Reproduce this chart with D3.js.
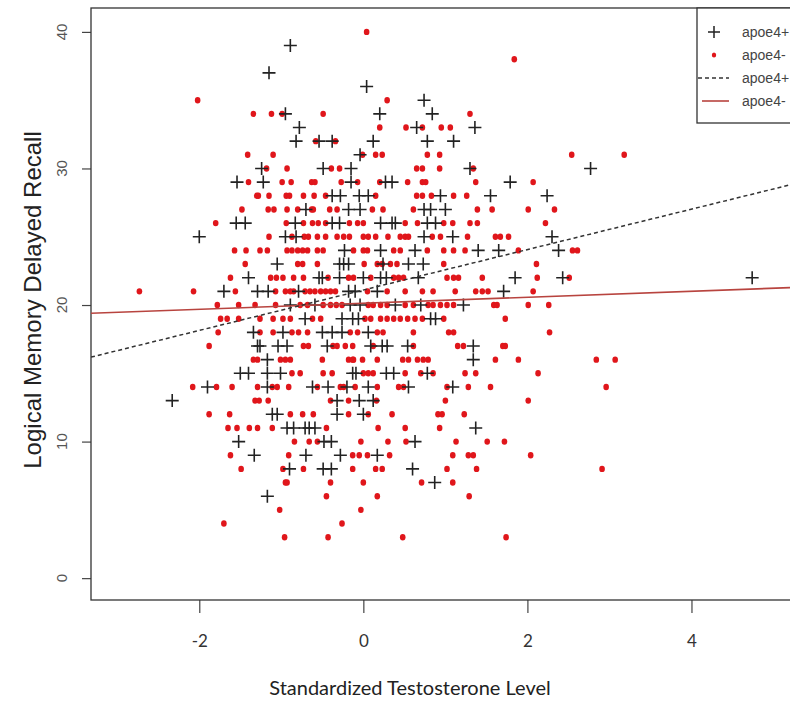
<!DOCTYPE html>
<html>
<head>
<meta charset="utf-8">
<script src="https://cdn.jsdelivr.net/npm/d3@7"></script>
<style>
  html, body { margin: 0; padding: 0; background: #fff; }
  svg { display: block; }
</style>
</head>
<body>
<div id="chart"></div>
<script>
// scores (y) with the testosterone values (x) read at each score
var negRows = [
  [40, [0.04]],
  [38, [1.84]],
  [35, [-2.02, 0.29]],
  [34, [-1.34, -1.12, -0.99, -0.49, 1.30]],
  [33, [0.20, 0.52, 0.72, 0.95, 1.06]],
  [32, [-0.58, -0.34]],
  [31, [-1.41, -1.10, -0.01, 0.15, 0.23, 0.78, 0.93, 2.54, 3.18]],
  [30, [-1.18, -0.93, -0.39, -0.29, 0.65, 0.72, 0.93, 1.34]],
  [29, [-1.40, -0.99, -0.88, -0.63, -0.59, -0.27, -0.07, 0.20, 0.54, 0.72, 0.76, 1.37, 2.07]],
  [28, [-1.30, -1.28, -1.15, -0.94, -0.90, -0.73, -0.60, -0.46, 0.15, 0.65, 0.72, 0.83, 1.10, 1.26]],
  [27, [-1.48, -1.16, -1.09, -0.93, -0.80, -0.63, -0.61, -0.41, -0.32, 0.11, 0.24, 0.61, 1.39, 1.57, 2.01, 2.33]],
  [26, [-1.80, -0.94, -0.73, -0.62, -0.55, -0.46, -0.17, -0.07, 0.00, 0.51, 0.66, 0.98, 1.09, 1.30, 1.39, 2.22]],
  [25, [-1.15, -0.87, -0.72, -0.67, -0.56, -0.46, -0.32, -0.24, -0.17, 0.00, 0.06, 0.15, 0.30, 0.45, 0.51, 0.55, 0.84, 0.94, 1.27, 1.61, 1.67, 1.77]],
  [24, [-1.57, -1.43, -1.26, -1.17, -0.93, -0.87, -0.80, -0.74, -0.68, -0.56, -0.49, -0.12, 0.00, 0.05, 0.37, 0.45, 0.78, 0.98, 1.10, 1.24, 1.89, 2.55, 2.61]],
  [23, [-1.44, -0.80, -0.74, -0.56, 0.01, 0.17, 0.23, 0.33, 0.41, 0.98, 2.11]],
  [22, [-1.62, -1.13, -1.06, -0.98, -0.85, -0.73, -0.43, -0.18, -0.12, 0.09, 0.37, 0.43, 0.49, 1.02, 1.10, 1.16, 1.45, 2.12, 2.51]],
  [21, [-2.73, -2.07, -1.56, -1.07, -0.95, -0.89, -0.85, -0.71, -0.65, -0.59, -0.52, -0.46, -0.40, -0.34, 0.05, 0.29, 0.51, 0.72, 0.85, 1.12, 1.37, 1.45, 1.52, 2.07]],
  [20, [-1.78, -1.52, -1.32, -1.07, -0.77, -0.68, -0.49, -0.40, -0.33, -0.26, 0.06, 0.12, 0.21, 0.29, 0.51, 0.61, 0.79, 0.85, 0.94, 1.02, 1.10, 1.59, 1.63, 2.01, 2.26]],
  [19, [-1.74, -1.66, -1.52, -1.26, -1.10, -0.98, -0.89, -0.62, -0.52, 0.02, 0.09, 0.21, 0.29, 0.37, 0.45, 0.54, 0.63, 0.72, 0.98, 1.73]],
  [18, [-1.77, -1.26, -1.10, -0.87, -0.79, -0.68, -0.16, -0.07, 0.17, 0.24, 0.61, 1.04, 1.10, 2.27]],
  [17, [-1.88, -0.73, -0.67, -0.37, -0.32, -0.22, -0.13, 0.12, 0.61, 1.15, 1.22, 1.70, 1.73]],
  [16, [-1.34, -1.29, -1.01, -0.95, -0.89, -0.50, -0.18, -0.13, -0.12, -0.01, 0.17, 0.48, 0.55, 0.66, 0.73, 0.79, 1.61, 1.89, 2.84, 3.07]],
  [15, [-0.87, -0.77, -0.49, -0.38, 0.00, 0.06, 0.12, 0.51, 0.70, 0.85, 1.24, 1.37, 2.13]],
  [14, [-2.08, -1.79, -1.60, -1.29, -1.11, -1.05, -0.91, -0.56, -0.28, -0.24, -0.10, 0.17, 0.43, 0.49, 1.02, 1.28, 1.55, 2.96]],
  [13, [-1.32, -1.27, -1.16, -0.40, -0.18, 0.16, 1.00, 2.01]],
  [12, [-1.88, -1.63, -0.89, -0.74, -0.61, -0.18, 0.06, 0.35, 0.91, 0.96, 1.23]],
  [11, [-1.65, -1.54, -1.39, -1.29, -1.11, -0.45, 0.18, 0.51, 0.93]],
  [10, [-0.84, -0.66, -0.56, -0.03, 0.30, 0.52, 1.13, 1.51, 1.72]],
  [9, [-1.62, -0.91, -0.13, -0.05, 0.05, 0.32, 1.09, 1.28, 1.34, 2.04]],
  [8, [-1.49, -0.98, -0.73, -0.13, 0.15, 0.23, 1.02, 1.38, 2.91]],
  [7, [-0.95, -0.93, -0.40, 0.00, 0.71, 1.09]],
  [6, [-0.45, 0.17, 1.29]],
  [5, [-1.02, -0.03]],
  [4, [-1.70, -0.26]],
  [3, [-0.96, -0.43, 0.48, 1.74]]
];

var posRows = [
  [39, [-0.89]],
  [37, [-1.15]],
  [36, [0.04]],
  [35, [0.74]],
  [34, [-0.95, 0.20, 0.84]],
  [33, [-0.78, 0.65, 1.36]],
  [32, [-0.82, -0.54, -0.38, 0.12, 0.78, 1.10]],
  [31, [-0.04]],
  [30, [-1.24, -0.49, -0.15, 1.30, 2.77]],
  [29, [-1.54, -1.22, -0.15, 0.27, 0.35, 1.79]],
  [28, [-0.38, -0.28, -0.05, 0.06, 0.94, 1.55, 2.24]],
  [27, [-0.70, -0.18, -0.04, 0.74, 0.82, 1.00]],
  [26, [-1.55, -1.44, -0.83, -0.38, -0.29, 0.21, 0.35, 0.39, 0.78, 0.88]],
  [25, [-2.00, -0.95, -0.82, 0.74, 1.09, 2.30]],
  [24, [-0.23, 0.21, 0.63, 1.40, 1.65, 2.38]],
  [23, [-1.05, -0.29, -0.24, -0.18, 0.24, 0.55, 0.73]],
  [22, [-1.40, -0.54, -0.50, -0.29, 0.00, 0.21, 0.28, 0.67, 1.85, 2.43, 4.74]],
  [21, [-1.70, -1.29, -1.16, -0.79, -0.18, -0.10, 0.17, 1.71]],
  [20, [-0.89, -0.59, -0.16, -0.04, 0.39, 0.70, 1.22]],
  [19, [-0.71, -0.26, -0.13, -0.06, 0.82, 0.88]],
  [18, [-1.34, -0.98, -0.50, -0.38, -0.26, 0.06]],
  [17, [-1.29, -1.26, -1.04, -0.93, -0.44, 0.09, 0.23, 0.29, 0.54, 1.34]],
  [16, [-1.17, 1.34]],
  [15, [-1.50, -1.40, -1.17, -1.01, -0.13, -0.09, 0.28, 0.37, 0.78]],
  [14, [-1.90, -1.17, -0.62, -0.43, -0.20, 0.06, 0.55, 1.09]],
  [13, [-2.33, -0.32, -0.05, 0.12]],
  [12, [-1.11, -1.05, -0.32, 0.00]],
  [11, [-0.93, -0.85, -0.71, -0.66, -0.59, 1.37]],
  [10, [-1.52, -0.48, -0.39, 0.63]],
  [9, [-1.33, -0.70, -0.28, 0.17]],
  [8, [-0.90, -0.49, -0.39, 0.60]],
  [7, [0.87]],
  [6, [-1.17]]
];

// fitted lines: [intercept, slope]
var fitPos = [21.1, 1.48];
var fitNeg = [20.13, 0.22];

var xTicks = [-2, 0, 2, 4];
var yTicks = [0, 10, 20, 30, 40];
var legendLabels = ["apoe4+", "apoe4-", "apoe4+", "apoe4-"];

var width = 790, height = 703;
var pLeft = 91, pTop = 8, pRight = 826, pBottom = 600;
var crossPath = "M-6.5,0H6.5M0,-6.5V6.5";

var x = d3.scaleLinear().domain([-3.32, 5.64]).range([pLeft, pRight]);
var y = d3.scaleLinear().domain([-1.6, 41.75]).range([pBottom, pTop]);

function flatten(rows) {
  var out = [];
  rows.forEach(function (r) {
    r[1].forEach(function (t) { out.push({ t: t, s: r[0] }); });
  });
  return out;
}

var svg = d3.select("#chart").append("svg")
  .attr("width", width)
  .attr("height", height);

svg.append("defs").append("clipPath").attr("id", "plotclip")
  .append("rect")
  .attr("x", pLeft).attr("y", pTop)
  .attr("width", pRight - pLeft).attr("height", pBottom - pTop);

// axes
var yAxis = svg.append("g")
  .attr("transform", "translate(" + pLeft + ",0)")
  .call(d3.axisLeft(y).tickValues(yTicks).tickSize(9).tickFormat(""));
yAxis.select(".domain").remove();
yAxis.selectAll("line").attr("stroke", "#444").attr("stroke-width", 1.2);

svg.selectAll(".ylab").data(yTicks).enter().append("text")
  .attr("class", "ylab")
  .attr("transform", function (d) { return "translate(67," + y(d) + ") rotate(-90)"; })
  .attr("text-anchor", "middle")
  .attr("font-family", "Liberation Sans, Arial, sans-serif")
  .attr("font-size", "15px")
  .attr("fill", "#555")
  .text(function (d) { return d; });

var xAxis = svg.append("g")
  .attr("transform", "translate(0," + pBottom + ")")
  .call(d3.axisBottom(x).tickValues(xTicks).tickSize(13).tickPadding(22)
    .tickFormat(function (d) { return d < 0 ? "-" + Math.abs(d) : d; }));
xAxis.select(".domain").remove();
xAxis.selectAll("line").attr("stroke", "#444").attr("stroke-width", 1.2);
xAxis.selectAll("text")
  .attr("font-family", "Lato, 'Open Sans', sans-serif")
  .attr("font-size", "17px")
  .attr("fill", "#333");

// plot box
svg.append("rect")
  .attr("x", pLeft).attr("y", pTop)
  .attr("width", pRight - pLeft).attr("height", pBottom - pTop)
  .attr("fill", "none")
  .attr("stroke", "#333")
  .attr("stroke-width", 1.3);

var plot = svg.append("g").attr("clip-path", "url(#plotclip)");

// apoe4- points
plot.selectAll(".neg").data(flatten(negRows)).enter().append("ellipse")
  .attr("class", "neg")
  .attr("cx", function (d) { return x(d.t); })
  .attr("cy", function (d) { return y(d.s); })
  .attr("rx", 2.8).attr("ry", 3.2)
  .attr("fill", "#e0161b");

// apoe4+ points
plot.selectAll(".pos").data(flatten(posRows)).enter().append("path")
  .attr("class", "pos")
  .attr("transform", function (d) { return "translate(" + x(d.t) + "," + y(d.s) + ")"; })
  .attr("d", crossPath)
  .attr("stroke", "#222")
  .attr("stroke-width", 1.6)
  .attr("fill", "none");

// fitted lines
function fitLine(f) {
  var d0 = x.domain();
  return d3.line()
    .x(function (t) { return x(t); })
    .y(function (t) { return y(f[0] + f[1] * t); })(d0);
}

plot.append("path")
  .attr("d", fitLine(fitNeg))
  .attr("stroke", "#b8443f")
  .attr("stroke-width", 1.6)
  .attr("fill", "none");

plot.append("path")
  .attr("d", fitLine(fitPos))
  .attr("stroke", "#333")
  .attr("stroke-width", 1.5)
  .attr("stroke-dasharray", "4,3")
  .attr("fill", "none");

// legend
var lg = svg.append("g").attr("transform", "translate(697,8)");
lg.append("rect")
  .attr("width", 130).attr("height", 115)
  .attr("fill", "#fff")
  .attr("stroke", "#333")
  .attr("stroke-width", 1.3);

var rowY = [24, 47, 70, 93];
lg.append("path")
  .attr("transform", "translate(17," + rowY[0] + ")")
  .attr("d", "M-6,0H6M0,-6V6")
  .attr("stroke", "#222").attr("stroke-width", 1.5);
lg.append("ellipse")
  .attr("cx", 17).attr("cy", rowY[1])
  .attr("rx", 2.2).attr("ry", 2.6)
  .attr("fill", "#e0161b");
lg.append("line")
  .attr("x1", 1).attr("x2", 32).attr("y1", rowY[2]).attr("y2", rowY[2])
  .attr("stroke", "#333").attr("stroke-width", 1.5)
  .attr("stroke-dasharray", "4,3");
lg.append("line")
  .attr("x1", 5).attr("x2", 32).attr("y1", rowY[3]).attr("y2", rowY[3])
  .attr("stroke", "#b8443f").attr("stroke-width", 1.6);

lg.selectAll(".lgt").data(legendLabels).enter().append("text")
  .attr("class", "lgt")
  .attr("x", 45)
  .attr("y", function (d, i) { return rowY[i] + 5; })
  .attr("font-family", "Liberation Sans, Arial, sans-serif")
  .attr("font-size", "14px")
  .attr("fill", "#444")
  .text(function (d) { return d; });

// axis titles
svg.append("text")
  .attr("transform", "translate(41,300) rotate(-90)")
  .attr("text-anchor", "middle")
  .attr("font-family", "Liberation Sans, Arial, sans-serif")
  .attr("font-size", "24px")
  .attr("fill", "#222")
  .text("Logical Memory Delayed Recall");

svg.append("text")
  .attr("x", 410)
  .attr("y", 695)
  .attr("text-anchor", "middle")
  .attr("font-family", "Lato, 'Open Sans', sans-serif")
  .attr("font-size", "20px")
  .attr("fill", "#222")
  .text("Standardized Testosterone Level");
</script>
</body>
</html>
